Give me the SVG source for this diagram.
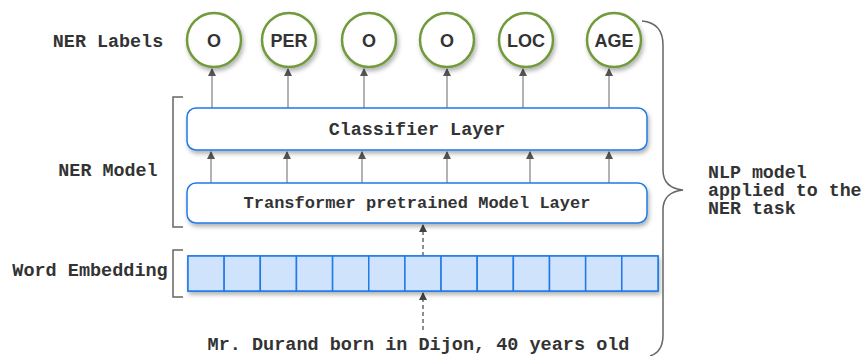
<svg xmlns="http://www.w3.org/2000/svg" width="865" height="356" viewBox="0 0 865 356">
<style>
.mono{font-family:"Liberation Mono","DejaVu Sans Mono",monospace;font-weight:bold;fill:#333}
.lbl{font-family:"Liberation Sans",Arial,sans-serif;font-weight:bold;font-size:18px;fill:#333;text-anchor:middle}
.circ{fill:#fff;stroke:#6f9a3b;stroke-width:2.5}
.box{fill:#fff;stroke:#1f7ae8;stroke-width:1.5}
.cell{fill:#cfe3fc;stroke:#1f7ae8;stroke-width:1.5}
.arr{stroke:#808080;stroke-width:1.2;fill:none}
.dash{stroke:#444;stroke-width:1.2;fill:none;stroke-dasharray:4,3}
.brk{stroke:#666;stroke-width:1.5;fill:none}
</style>
<defs>
<filter id="sh" x="-30%" y="-30%" width="160%" height="170%">
<feDropShadow dx="1.5" dy="3" stdDeviation="2" flood-color="#000" flood-opacity="0.3"/>
</filter>
<marker id="ah" markerWidth="8" markerHeight="10" refX="7" refY="4" orient="auto" markerUnits="userSpaceOnUse" viewBox="0 0 8 8">
<path d="M0,0 L8,4 L0,8 Z" fill="#555"/>
</marker>
<marker id="ahd" markerWidth="8" markerHeight="10" refX="7" refY="4" orient="auto" markerUnits="userSpaceOnUse" viewBox="0 0 8 8">
<path d="M0,0 L8,4 L0,8 Z" fill="#444"/>
</marker>
</defs>

<g id="side-labels">
<text class="mono" x="108" y="47" font-size="18.4" text-anchor="middle">NER Labels</text>
<text class="mono" x="108" y="176" font-size="18.4" text-anchor="middle">NER Model</text>
<text class="mono" x="90" y="276" font-size="18.5" text-anchor="middle">Word Embedding</text>
<path class="brk" d="M183 97 L173 97 L173 227 L183 227"/>
<path class="brk" d="M183 250 L173 250 L173 297 L183 297"/>
</g>

<g id="connectors">
<line class="arr" x1="212" y1="108" x2="212" y2="69" marker-end="url(#ah)"/>
<line class="arr" x1="288" y1="108" x2="288" y2="69" marker-end="url(#ah)"/>
<line class="arr" x1="364" y1="108" x2="364" y2="69" marker-end="url(#ah)"/>
<line class="arr" x1="447" y1="108" x2="447" y2="69" marker-end="url(#ah)"/>
<line class="arr" x1="523" y1="108" x2="523" y2="69" marker-end="url(#ah)"/>
<line class="arr" x1="609" y1="108" x2="609" y2="69" marker-end="url(#ah)"/>
<line class="arr" x1="211" y1="183" x2="211" y2="152" marker-end="url(#ah)"/>
<line class="arr" x1="287" y1="183" x2="287" y2="152" marker-end="url(#ah)"/>
<line class="arr" x1="362" y1="183" x2="362" y2="152" marker-end="url(#ah)"/>
<line class="arr" x1="447" y1="183" x2="447" y2="152" marker-end="url(#ah)"/>
<line class="arr" x1="530" y1="183" x2="530" y2="152" marker-end="url(#ah)"/>
<line class="arr" x1="609" y1="183" x2="609" y2="152" marker-end="url(#ah)"/>
<line class="dash" x1="423" y1="256" x2="423" y2="225" marker-end="url(#ahd)"/>
<line class="dash" x1="423" y1="330" x2="423" y2="293" marker-end="url(#ahd)"/>
</g>

<g id="label-O1"><circle class="circ" cx="214" cy="40" r="27" filter="url(#sh)"/><text class="lbl" x="214" y="47">O</text></g>
<g id="label-PER"><circle class="circ" cx="289" cy="40" r="27" filter="url(#sh)"/><text class="lbl" x="289" y="47">PER</text></g>
<g id="label-O2"><circle class="circ" cx="369" cy="40" r="27" filter="url(#sh)"/><text class="lbl" x="369" y="47">O</text></g>
<g id="label-O3"><circle class="circ" cx="447" cy="40" r="27" filter="url(#sh)"/><text class="lbl" x="447" y="47">O</text></g>
<g id="label-LOC"><circle class="circ" cx="526" cy="40" r="27" filter="url(#sh)"/><text class="lbl" x="526" y="47">LOC</text></g>
<g id="label-AGE"><circle class="circ" cx="614" cy="40" r="27" filter="url(#sh)"/><text class="lbl" x="614" y="47">AGE</text></g>

<g id="classifier">
<rect class="box" x="187" y="108" width="460" height="42" rx="9" filter="url(#sh)"/>
<text class="mono" x="417" y="135" font-size="18.4" text-anchor="middle">Classifier Layer</text>
</g>

<g id="transformer">
<rect class="box" x="187" y="183" width="460" height="40" rx="9" filter="url(#sh)"/>
<text class="mono" x="417" y="208" font-size="17" text-anchor="middle">Transformer pretrained Model Layer</text>
</g>

<g id="embedding">
<rect class="cell" x="188" y="256" width="470" height="35" filter="url(#sh)"/>
<g class="cell">
<rect x="188" y="256" width="36.15" height="35"/>
<rect x="224.15" y="256" width="36.15" height="35"/>
<rect x="260.3" y="256" width="36.15" height="35"/>
<rect x="296.45" y="256" width="36.15" height="35"/>
<rect x="332.6" y="256" width="36.15" height="35"/>
<rect x="368.75" y="256" width="36.15" height="35"/>
<rect x="404.9" y="256" width="36.15" height="35"/>
<rect x="441.05" y="256" width="36.15" height="35"/>
<rect x="477.2" y="256" width="36.15" height="35"/>
<rect x="513.35" y="256" width="36.15" height="35"/>
<rect x="549.5" y="256" width="36.15" height="35"/>
<rect x="585.65" y="256" width="36.15" height="35"/>
<rect x="621.8" y="256" width="36.2" height="35"/>
</g>
</g>

<g id="input-sentence">
<text class="mono" x="418.5" y="350" font-size="18.5" text-anchor="middle">Mr. Durand born in Dijon, 40 years old</text>
</g>

<g id="brace">
<path class="brk" d="M642 21 Q663 23 663 45 L663 170 Q663 188 683 190 Q663 192 663 210 L663 335 Q663 352 650 356"/>
<text class="mono" font-size="18.3"><tspan x="708" y="178">NLP model</tspan><tspan x="708" y="196">applied to the</tspan><tspan x="708" y="214">NER task</tspan></text>
</g>
</svg>
